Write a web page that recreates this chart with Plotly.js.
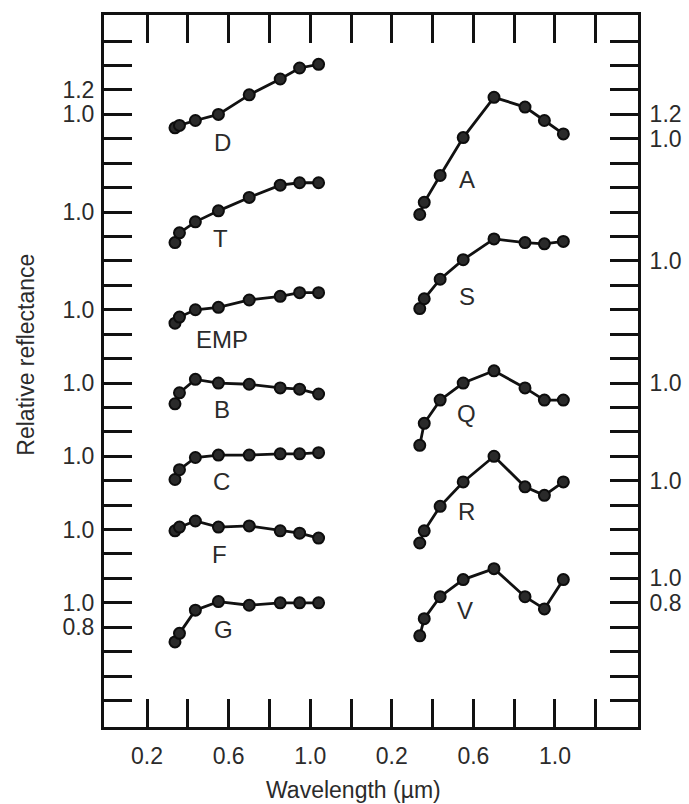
<!DOCTYPE html>
<html>
<head>
<meta charset="utf-8">
<script src="https://cdn.plot.ly/plotly-3.0.1.min.js"></script>
<style>html,body{margin:0;padding:0;background:#fff;}#chart{width:689px;height:804px;}</style>
</head>
<body>
<div id="chart"></div>
<script>
// ECAS filter wavelengths (µm)
const wavelength = [0.337, 0.359, 0.437, 0.550, 0.701, 0.853, 0.948, 1.041];

// Left column spectra (relative reflectance, normalised near 0.55 µm)
const specD   = [0.89, 0.91, 0.95, 1.00, 1.16, 1.29, 1.38, 1.41];
const specT   = [0.75, 0.83, 0.92, 1.01, 1.12, 1.22, 1.24, 1.24];
const specEMP = [0.89, 0.94, 1.00, 1.02, 1.08, 1.11, 1.14, 1.14];
const specB   = [0.83, 0.92, 1.03, 1.00, 0.99, 0.96, 0.95, 0.91];
const specC   = [0.81, 0.89, 0.99, 1.01, 1.01, 1.02, 1.02, 1.03];
const specF   = [0.99, 1.02, 1.07, 1.02, 1.03, 0.99, 0.97, 0.93];
const specG   = [0.68, 0.75, 0.94, 1.01, 0.98, 1.00, 1.00, 1.00];

// Right column spectra
const specA = [0.38, 0.48, 0.70, 1.01, 1.34, 1.26, 1.15, 1.04];
const specS = [0.61, 0.69, 0.85, 1.01, 1.18, 1.15, 1.14, 1.16];
const specQ = [0.49, 0.67, 0.86, 1.00, 1.10, 0.96, 0.86, 0.86];
const specR = [0.49, 0.59, 0.79, 0.99, 1.20, 0.95, 0.88, 0.99];
const specV = [0.53, 0.67, 0.85, 0.99, 1.08, 0.85, 0.75, 0.99];

// Class names
const leftNames  = ['D', 'T', 'EMP', 'B', 'C', 'F', 'G'];
const rightNames = ['A', 'S', 'Q', 'R', 'V'];

// Labelled reflectance levels on the axes for each spectrum
const leftLevels  = [[1.2, 1.0], [1.0], [1.0], [1.0], [1.0], [1.0], [1.0, 0.8]];
const rightLevels = [[1.2, 1.0], [1.0], [1.0], [1.0], [1.0, 0.8]];

// Tick labels along the wavelength axes
const xTickVals = [0.2, 0.4, 0.6, 0.8, 1.0, 1.2];
const xTickText = ['0.2', '', '0.6', '', '1.0', ''];

// ---- layout helpers (vertical stacking offsets, style) ----
const leftSpectra  = [specD, specT, specEMP, specB, specC, specF, specG];
const rightSpectra = [specA, specS, specQ, specR, specV];
const leftOffsets  = [3.8, 3.0, 2.2, 1.6, 1.0, 0.4, -0.2];
const rightOffsets = [3.6, 2.6, 1.6, 0.8, 0.0];
const leftLabelPos  = [[0.571, 0.773], [0.558, 0.787], [0.566, 0.76], [0.566, 0.78], [0.566, 0.79], [0.554, 0.795], [0.574, 0.78]];
const rightLabelPos = [[0.567, 0.67], [0.567, 0.71], [0.567, 0.75], [0.567, 0.75], [0.559, 0.74]];

const txtColor = '#2b2b2b';
const fontFam = '"Liberation Sans", Arial, Helvetica, sans-serif';
const FS = 23;
const FS_LBL = 24;

const traces = [];
function addTraces(specs, offs, xa, ya) {
  specs.forEach((s, i) => {
    traces.push({
      x: wavelength,
      y: s.map(v => v + offs[i]),
      xaxis: xa, yaxis: ya,
      type: 'scatter', mode: 'lines+markers',
      line: {color: '#111', width: 2.8},
      marker: {size: 11, color: '#2a2a2a', line: {color: '#0d0d0d', width: 2}},
      hoverinfo: 'skip', showlegend: false
    });
  });
}
addTraces(leftSpectra, leftOffsets, 'x', 'y');
addTraces(rightSpectra, rightOffsets, 'x2', 'y2');

// y ticks: every 0.2 units from 0 to 5.4
const yTickVals = [];
for (let k = 0; k <= 27; k++) yTickVals.push(Math.round(k * 2) / 10);
function yTicks(levels, offs) {
  const map = {};
  levels.forEach((lv, i) => lv.forEach(l => { map[(l + offs[i]).toFixed(1)] = l.toFixed(1); }));
  return yTickVals.map(v => map[v.toFixed(1)] || '');
}
const yLeftText = yTicks(leftLevels, leftOffsets);
const yRightText = yTicks(rightLevels, rightOffsets);

const annotations = [];
leftNames.forEach((n, i) => annotations.push({
  text: n, x: leftLabelPos[i][0], y: leftOffsets[i] + leftLabelPos[i][1], xref: 'x', yref: 'y',
  showarrow: false, xanchor: 'center', yanchor: 'middle', font: {family: fontFam, size: FS_LBL, color: txtColor}
}));
rightNames.forEach((n, i) => annotations.push({
  text: n, x: rightLabelPos[i][0], y: rightOffsets[i] + rightLabelPos[i][1], xref: 'x2', yref: 'y2',
  showarrow: false, xanchor: 'center', yanchor: 'middle', font: {family: fontFam, size: FS_LBL, color: txtColor}
}));
annotations.push({
  text: 'Wavelength (µm)', x: 0.468, y: -0.088, xref: 'paper', yref: 'paper',
  showarrow: false, xanchor: 'center', yanchor: 'middle', font: {family: fontFam, size: FS, color: txtColor}
});
annotations.push({
  text: 'Relative reflectance', x: -0.146, y: 0.523, xref: 'paper', yref: 'paper', textangle: -90,
  showarrow: false, xanchor: 'center', yanchor: 'middle', font: {family: fontFam, size: FS, color: txtColor}
});

const common = {
  ticks: 'inside', ticklen: 28, tickwidth: 3, tickcolor: '#111',
  showline: true, linewidth: 3, linecolor: '#111',
  showgrid: false, zeroline: false, fixedrange: true,
  tickfont: {family: fontFam, size: FS, color: txtColor}
};
const yRange = [-0.217, 5.614];

const layout = {
  width: 689, height: 804,
  margin: {l: 104, r: 51, t: 15, b: 76.5},
  paper_bgcolor: '#fff', plot_bgcolor: '#fff',
  showlegend: false,
  xaxis: Object.assign({}, common, {domain: [0, 0.5], range: [-0.011, 1.298], anchor: 'y', mirror: 'ticks',
    tickmode: 'array', tickvals: xTickVals, ticktext: xTickText, ticklabelstandoff: 6}),
  xaxis2: Object.assign({}, common, {domain: [0.5, 1], range: [0.098, 1.407], anchor: 'y2', mirror: 'ticks',
    tickmode: 'array', tickvals: xTickVals, ticktext: xTickText, ticklabelstandoff: 6}),
  yaxis: Object.assign({}, common, {domain: [0, 1], range: yRange, anchor: 'x', side: 'left',
    tickmode: 'array', tickvals: yTickVals, ticktext: yLeftText, ticklabelstandoff: 2}),
  yaxis2: Object.assign({}, common, {domain: [0, 1], range: yRange, anchor: 'x2', side: 'right',
    tickmode: 'array', tickvals: yTickVals, ticktext: yRightText, ticklabelstandoff: 4}),
  annotations: annotations
};

Plotly.newPlot('chart', traces, layout, {staticPlot: true, displayModeBar: false});
</script>
</body>
</html>
